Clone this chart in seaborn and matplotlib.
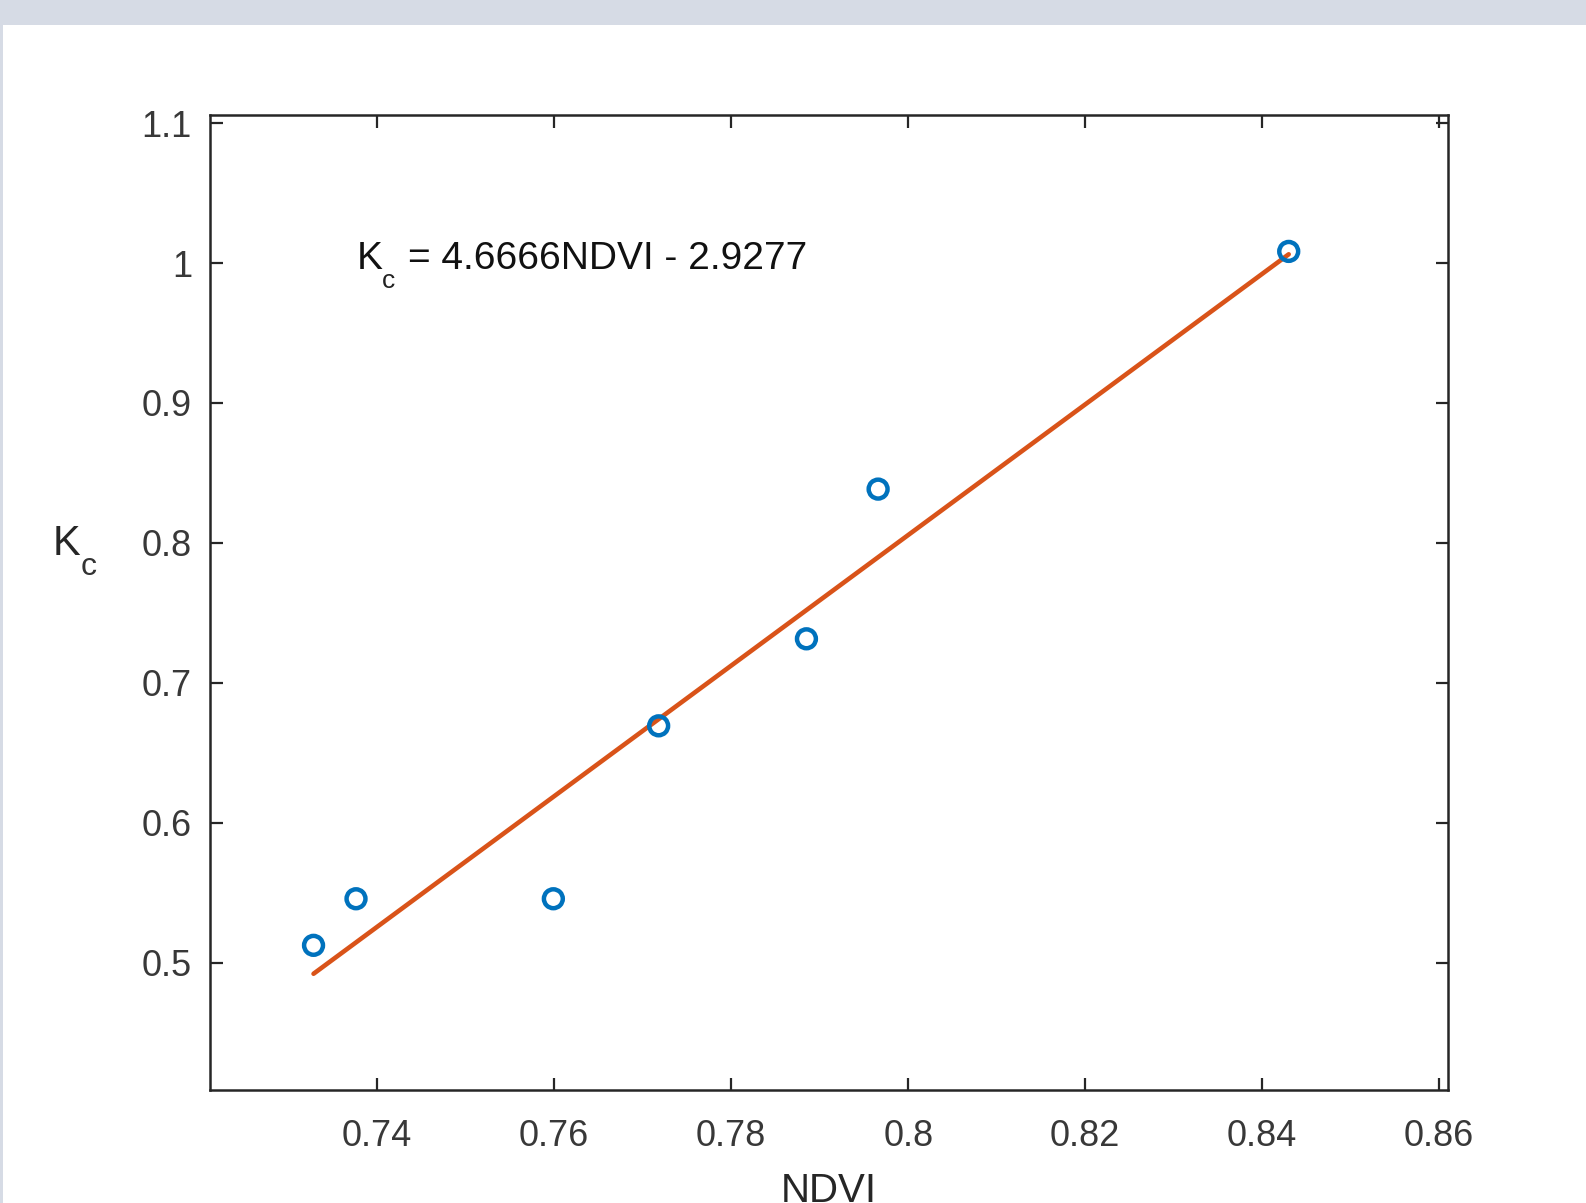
import numpy as np
import pandas as pd
import seaborn as sns
import matplotlib
matplotlib.use("Agg")
import matplotlib.pyplot as plt
from matplotlib.patches import Rectangle
from matplotlib.transforms import offset_copy

# ---- data ----
ndvi = [0.7328, 0.7376, 0.7599, 0.7718, 0.7885, 0.7966, 0.8430]
kc = [0.5123, 0.5456, 0.5456, 0.6692, 0.7314, 0.8384, 1.0083]
slope = 4.6666
intercept = -2.9277
x_ticks = [0.74, 0.76, 0.78, 0.80, 0.82, 0.84, 0.86]
x_tick_labels = ["0.74", "0.76", "0.78", "0.8", "0.82", "0.84", "0.86"]
y_ticks = [0.5, 0.6, 0.7, 0.8, 0.9, 1.0, 1.1]
y_tick_labels = ["0.5", "0.6", "0.7", "0.8", "0.9", "1", "1.1"]
eq_main = "K"
eq_sub = "c"
eq_rest = "= 4.6666NDVI - 2.9277"
x_label = "NDVI"
y_label_main = "K"
y_label_sub = "c"

df = pd.DataFrame({"NDVI": ndvi, "Kc": kc})
fit_x = [min(ndvi), max(ndvi)]
fit_df = pd.DataFrame({"NDVI": fit_x, "Kc": [slope * v + intercept for v in fit_x]})

sns.set_theme(style="white")
plt.rcParams["font.family"] = ["Liberation Sans", "DejaVu Sans"]

W, H = 1586, 1203
fig = plt.figure(figsize=(W / 100, H / 100), dpi=100)
fig.patch.set_facecolor("white")
fig.patches.append(Rectangle((0, 1 - 25 / H), 1, 25 / H, transform=fig.transFigure,
                             facecolor="#D6DBE5", edgecolor="none", zorder=0))
fig.patches.append(Rectangle((0, 0), 2.5 / W, 1 - 25 / H, transform=fig.transFigure,
                             facecolor="#D6DBE5", edgecolor="none", zorder=0))

ax = fig.add_axes([210 / W, 1 - 1090 / H, (1448 - 210) / W, (1090 - 115) / H])

sns.lineplot(data=fit_df, x="NDVI", y="Kc", ax=ax, color="#D95319", linewidth=3.3, zorder=2)
sns.scatterplot(data=df, x="NDVI", y="Kc", ax=ax, marker="o", s=185, facecolor="none",
                edgecolor="#0072BD", linewidth=3.2, zorder=3)

ax.set_xlim(0.7211, 0.8610)
ax.set_ylim(0.4089, 1.1058)
ax.set_xticks(x_ticks)
ax.set_xticklabels(x_tick_labels)
ax.set_yticks(y_ticks)
ax.set_yticklabels(y_tick_labels)

for s in ax.spines.values():
    s.set_visible(True)
    s.set_color("#262626")
    s.set_linewidth(1.8)

ax.tick_params(axis="both", which="major", direction="in", length=9, width=1.6,
               color="#262626", labelcolor="#383838", labelsize=26,
               top=True, right=True, bottom=True, left=True)
ax.tick_params(axis="x", pad=21)
ax.tick_params(axis="y", pad=13)
ax.set_xlabel("")
ax.set_ylabel("")

# equation annotation: K with a dropped subscript c, then the rest
ex, ey = 0.7377, 0.9954
ax.text(ex, ey, eq_main, fontsize=28, color="#111111", ha="left", va="baseline")
ax.text(ex, ey, eq_sub, fontsize=19, color="#222222", ha="left", va="baseline",
        transform=offset_copy(ax.transData, fig=fig, x=18, y=-13, units="points"))
ax.text(ex, ey, eq_rest, fontsize=28, color="#111111", ha="left", va="baseline",
        transform=offset_copy(ax.transData, fig=fig, x=36.5, y=0, units="points"))

# axis labels
fig.text(829 / W, 1 - 1202 / H, x_label, fontsize=29, color="#262626",
         ha="center", va="baseline")
fig.text(53 / W, 1 - 555 / H, y_label_main, fontsize=30, color="#262626",
         ha="left", va="baseline")
fig.text(81 / W, 1 - 575 / H, y_label_sub, fontsize=23, color="#333333",
         ha="left", va="baseline")

ax.grid(False)
fig.savefig("out.png", dpi=100)
